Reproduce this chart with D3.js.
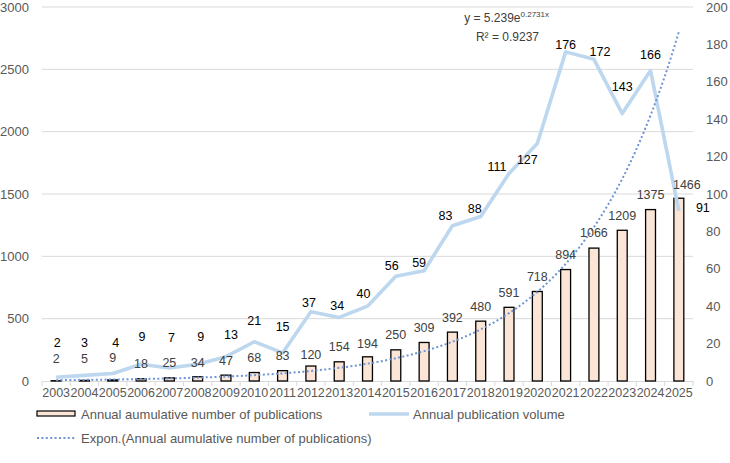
<!DOCTYPE html>
<html>
<head>
<meta charset="utf-8">
<script src="https://cdn.jsdelivr.net/npm/d3@7"></script>
<style>
  body { margin: 0; background: #fff; }
  text { font-family: "Liberation Sans", Arial, sans-serif; }
</style>
</head>
<body>
<div id="chart"></div>
<script>
// data
var years = ["2003","2004","2005","2006","2007","2008","2009","2010","2011","2012","2013","2014",
             "2015","2016","2017","2018","2019","2020","2021","2022","2023","2024","2025"];
var cumulative = [2,5,9,18,25,34,47,68,83,120,154,194,250,309,392,480,591,718,894,1066,1209,1375,1466];
var annual = [2,3,4,9,7,9,13,21,15,37,34,40,56,59,83,88,111,127,176,172,143,166,91];
var leftTicks = [0,500,1000,1500,2000,2500,3000];
var rightTicks = [0,20,40,60,80,100,120,140,160,180,200];
// trendline as printed on the chart: y = a * e^(b*x), x = 1..n
var trendA = 5.239, trendB = 0.2731;
var trendText = "y = 5.239e", trendExp = "0.2731x", r2Text = "R\u00b2 = 0.9237";

// label nudges (px) so labels sit where the original had them
var lineLabelDx = [1,0,3,1,2,3,5,0,0,-2,-2,-4,-4,-5,-7,-6,-12,-10,0,6,0,0,24];
var lineLabelDy = [-35,-33,-31,-28,-30,-28,-22,-21,-26,-9,-12,-13,-11,-8,-10,-8,-7,16,-7,-8,-27,-16,-3];
var barLabelDy = [-22,-22,-22,-15,-15,-14,-15,-15,-15,-11,-15,-13,-15,-15,-15,-15,-15,-15,-15,-15,-15,-15,-14];

var width = 730, height = 463;
var margin = {left: 42, right: 37, top: 7, bottom: 82};
var plotW = width - margin.left - margin.right;
var plotH = height - margin.top - margin.bottom;

var svg = d3.select("#chart").append("svg")
  .attr("width", width)
  .attr("height", height);

var g = svg.append("g").attr("transform", "translate(" + margin.left + "," + margin.top + ")");

var x = d3.scaleBand().domain(years).range([0, plotW]).paddingInner(0.65).paddingOuter(0.325);
var xc = function(i){ return x(years[i]) + x.bandwidth() / 2; };
var yL = d3.scaleLinear().domain([0, 3000]).range([plotH, 0]);
var yR = d3.scaleLinear().domain([0, 200]).range([plotH, 0]);

// gridlines
g.append("g")
  .selectAll("line")
  .data(leftTicks.slice(1))
  .enter()
  .append("line")
  .attr("x1", 0).attr("x2", plotW)
  .attr("y1", function(d){ return yL(d); })
  .attr("y2", function(d){ return yL(d); })
  .style("stroke", "#d9d9d9")
  .style("stroke-width", 1);

// left axis labels
g.append("g")
  .selectAll("text")
  .data(leftTicks)
  .enter()
  .append("text")
  .attr("x", -13)
  .attr("y", function(d){ return yL(d); })
  .attr("dy", "0.35em")
  .attr("text-anchor", "end")
  .style("font-size", "13px")
  .style("fill", "#595959")
  .text(function(d){ return d; });

// right axis labels
g.append("g")
  .selectAll("text")
  .data(rightTicks)
  .enter()
  .append("text")
  .attr("x", plotW + 13)
  .attr("y", function(d){ return yR(d); })
  .attr("dy", "0.35em")
  .attr("text-anchor", "start")
  .style("font-size", "13px")
  .style("fill", "#595959")
  .text(function(d){ return d; });

// x axis
var xAxis = d3.axisBottom(x).tickSize(0).tickPadding(7);
var xg = g.append("g").attr("transform", "translate(0," + plotH + ")").call(xAxis);
xg.select(".domain").style("stroke", "#d9d9d9");
xg.selectAll("text")
  .style("font-size", "12.5px")
  .style("fill", "#595959")
  .style("font-family", "'Liberation Sans', Arial, sans-serif");
// tick marks between categories
var step = x.step();
xg.append("g")
  .selectAll("line")
  .data(d3.range(years.length + 1))
  .enter()
  .append("line")
  .attr("x1", function(i){ return i * step; })
  .attr("x2", function(i){ return i * step; })
  .attr("y1", 0).attr("y2", 5)
  .style("stroke", "#d9d9d9");

// bars
g.append("g")
  .selectAll("rect")
  .data(cumulative)
  .enter()
  .append("rect")
  .attr("x", function(d, i){ return x(years[i]); })
  .attr("y", function(d){ return yL(d); })
  .attr("width", x.bandwidth())
  .attr("height", function(d){ return plotH - yL(d); })
  .style("fill", "#fbe5d6")
  .style("stroke", "#000")
  .style("stroke-width", 1.3);

// annual line
var line = d3.line()
  .x(function(d, i){ return xc(i); })
  .y(function(d){ return yR(d); });

g.append("path")
  .datum(annual)
  .attr("d", line)
  .style("fill", "none")
  .style("stroke", "#bdd7ee")
  .style("stroke-width", 3.6)
  .style("stroke-linejoin", "round");

// exponential trendline, sampled between categories so the curve is smooth
var trendPts = [];
for (var t = 0; t <= years.length - 1 + 1e-9; t += 0.25) {
  trendPts.push([xc(0) + t * step, yL(trendA * Math.exp(trendB * (t + 1)))]);
}
g.append("path")
  .datum(trendPts)
  .attr("d", d3.line().curve(d3.curveMonotoneX))
  .style("fill", "none")
  .style("stroke", "#7094d4")
  .style("stroke-width", 2)
  .style("stroke-dasharray", "2 2.4");

// bar labels
g.append("g")
  .selectAll("text")
  .data(cumulative)
  .enter()
  .append("text")
  .attr("x", function(d, i){ return xc(i) + (i == years.length - 1 ? 8 : 0); })
  .attr("y", function(d, i){ return yL(d) + barLabelDy[i]; })
  .attr("dy", "0.35em")
  .attr("text-anchor", "middle")
  .style("font-size", "12.5px")
  .style("fill", "#404040")
  .text(function(d){ return d; });

// line labels
g.append("g")
  .selectAll("text")
  .data(annual)
  .enter()
  .append("text")
  .attr("x", function(d, i){ return xc(i) + lineLabelDx[i]; })
  .attr("y", function(d, i){ return yR(d) + lineLabelDy[i]; })
  .attr("dy", "0.35em")
  .attr("text-anchor", "middle")
  .style("font-size", "12.5px")
  .style("fill", "#000")
  .text(function(d){ return d; });

// equation
var eq = svg.append("text")
  .attr("x", 549)
  .attr("y", 22)
  .attr("text-anchor", "end")
  .style("font-size", "12px")
  .style("fill", "#404040");
eq.append("tspan").text(trendText);
eq.append("tspan").attr("dy", -5).style("font-size", "8px").text(trendExp);
svg.append("text")
  .attr("x", 539)
  .attr("y", 41)
  .attr("text-anchor", "end")
  .style("font-size", "12px")
  .style("fill", "#404040")
  .text(r2Text);

// legend
var legend = svg.append("g");
legend.append("rect")
  .attr("x", 37).attr("y", 411)
  .attr("width", 38).attr("height", 5)
  .style("fill", "#fbe5d6")
  .style("stroke", "#000")
  .style("stroke-width", 1.2);
legend.append("text")
  .attr("x", 81).attr("y", 414).attr("dy", "0.35em")
  .style("font-size", "13px").style("fill", "#595959")
  .text("Annual aumulative number of publications");
legend.append("line")
  .attr("x1", 369).attr("x2", 409)
  .attr("y1", 414).attr("y2", 414)
  .style("stroke", "#bdd7ee").style("stroke-width", 3.6);
legend.append("text")
  .attr("x", 413).attr("y", 414).attr("dy", "0.35em")
  .style("font-size", "13px").style("fill", "#595959")
  .text("Annual publication volume");
legend.append("line")
  .attr("x1", 37).attr("x2", 76)
  .attr("y1", 438).attr("y2", 438)
  .style("stroke", "#7094d4").style("stroke-width", 2)
  .style("stroke-dasharray", "2 2.4");
legend.append("text")
  .attr("x", 81).attr("y", 438).attr("dy", "0.35em")
  .style("font-size", "13px").style("fill", "#595959")
  .text("Expon.(Annual aumulative number of publications)");
</script>
</body>
</html>
